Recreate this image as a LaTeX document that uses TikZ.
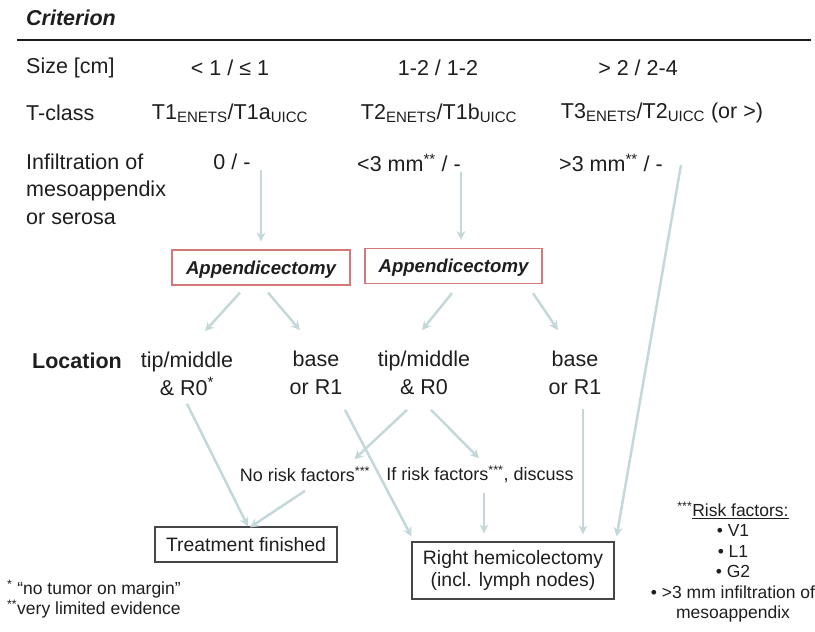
\documentclass[tikz,border=0pt]{standalone}
\usepackage{fontspec}
\setmainfont{Liberation Sans}
\usetikzlibrary{arrows.meta}
\definecolor{txt}{RGB}{30,30,30}
\definecolor{arrowcol}{RGB}{196,216,218}
\definecolor{boxred}{RGB}{214,120,120}
\definecolor{boxgray}{RGB}{70,70,70}

\begin{document}
\begin{tikzpicture}[
        x=1pt, y=-1pt,
        every node/.style={font=\fontsize{21.5}{27.5}\selectfont, text=txt, inner sep=0pt},
        small/.style={font=\fontsize{17.5}{20.4}\selectfont},
        note/.style={font=\fontsize{18}{21}\selectfont},
        surgery/.style={rectangle, draw=boxred, line width=1.2pt, font=\fontsize{18.6}{22}\selectfont\bfseries\itshape, text height=17.4pt, text depth=4pt, minimum height=35pt},
        outcome/.style={rectangle, draw=boxgray, line width=1.2pt, font=\fontsize{19.4}{22}\selectfont, align=center},
        flow/.style={-{Stealth[length=9pt,width=9pt]}, line width=2.5pt, draw=arrowcol}
        ]
        \useasboundingbox (0,0) rectangle (815,632);

        % Header
        \node[anchor=west, font=\fontsize{21.5}{25}\selectfont\bfseries\itshape] (crit) at (26,18) {Criterion};
        \draw[line width=2pt, txt] (17,40) -- (811,40);

        % Criteria rows
        \node[anchor=west] (size) at (26,68) {Size [cm]};
        \node (s1) at (230,68) {< 1 / ≤ 1};
        \node (s2) at (438,68) {1-2 / 1-2};
        \node (s3) at (638,68) {> 2 / 2-4};

        \node[anchor=west] (tclass) at (26,113) {T-class};
        \node (t1) at (230,113) {T1\textsubscript{ENETS}/T1a\textsubscript{UICC}};
        \node (t2) at (439,113) {T2\textsubscript{ENETS}/T1b\textsubscript{UICC}};
        \node (t3) at (662,113) {T3\textsubscript{ENETS}/T2\textsubscript{UICC} (or >)};

        \node[anchor=west, align=left] (infl) at (26,189) {Infiltration of\\mesoappendix\\or serosa};
        \node (i1) at (232,162) {0 / -};
        \node (i2) at (409,163) {<3 mm\textsuperscript{**} / -};
        \node (i3) at (611,163) {>3 mm\textsuperscript{**} / -};

        % Surgery boxes
        \node[surgery, minimum width=178pt] (app1) at (261,267.5) {Appendicectomy};
        \node[surgery, minimum width=177pt] (app2) at (453.5,266) {Appendicectomy};

        % Location row
        \node[anchor=west, font=\fontsize{21.5}{25}\selectfont\bfseries] (loc) at (32,361) {Location};
        \node[align=center] (l1) at (187,374) {tip/middle\\\& R0\textsuperscript{*}};
        \node[align=center] (l2) at (316,373) {base\\or R1};
        \node[align=center] (l3) at (424,373) {tip/middle\\\& R0};
        \node[align=center] (l4) at (575,373) {base\\or R1};

        % Risk factor split
        \node[note] (nrf) at (305,474) {No risk factors\textsuperscript{***}};
        \node[note] (irf) at (480,474) {If risk factors\textsuperscript{***}, discuss};

        % Outcomes
        \node[outcome, minimum width=182pt, minimum height=35pt] (done) at (246,544.5) {Treatment finished};
        \node[outcome, minimum width=202pt, minimum height=57pt] (hemi) at (513,570.5) {Right hemicolectomy\\(incl. lymph nodes)};

        % Footnotes
        \node[small, align=center] (risk) at (733,562) {\textsuperscript{***}\underline{Risk factors:}\\• V1\\• L1\\• G2\\• >3 mm infiltration of\\mesoappendix};
        \node[small, anchor=west, align=left] (notes) at (7,599) {\textsuperscript{*} “no tumor on margin”\\\textsuperscript{**}very limited evidence};

        % Connections
        \draw[flow, shorten >=8pt] (app1.north |- i1.south) -- (app1.north);
        \draw[flow, shorten >=8pt] (i2.south east) -- (i2.south east |- app2.north);
        \draw[flow] ([shift={(18,2)}]i3.east) -- ([shift={(2,-5)}]hemi.north east);
        \draw[flow] ([shift={(-21,7)}]app1.south) -- ([shift={(18,-21)}]l1.north);
        \draw[flow] ([shift={(7,7)}]app1.south) -- ([shift={(-16,-21)}]l2.north);
        \draw[flow] ([shift={(-1.5,9)}]app2.south) -- ([shift={(-2,-21)}]l3.north);
        \draw[flow] ([shift={(79.5,9)}]app2.south) -- ([shift={(-17,-21)}]l4.north);
        \draw[flow] ([shift={(0,8)}]l1.south) -- ([shift={(2,0)}]done.north);
        \draw[flow] ([shift={(29,15)}]l2.south) -- ([shift={(0,-5)}]hemi.north west);
        \draw[flow] ([shift={(-17,15)}]l3.south) -- ([shift={(-16,-7)}]nrf.north east);
        \draw[flow] ([shift={(7,15)}]l3.south) -- ([shift={(-1,-7)}]irf.north);
        \draw[flow] ([shift={(8,14)}]l4.south) -- ([shift={(70,-7)}]hemi.north);
        \draw[flow] ([shift={(0,9)}]nrf.south) -- ([shift={(4,1)}]done.north);
        \draw[flow] ([shift={(4,10)}]irf.south) -- ([shift={(-29,-8)}]hemi.north);

    \end{tikzpicture}
\end{document}
